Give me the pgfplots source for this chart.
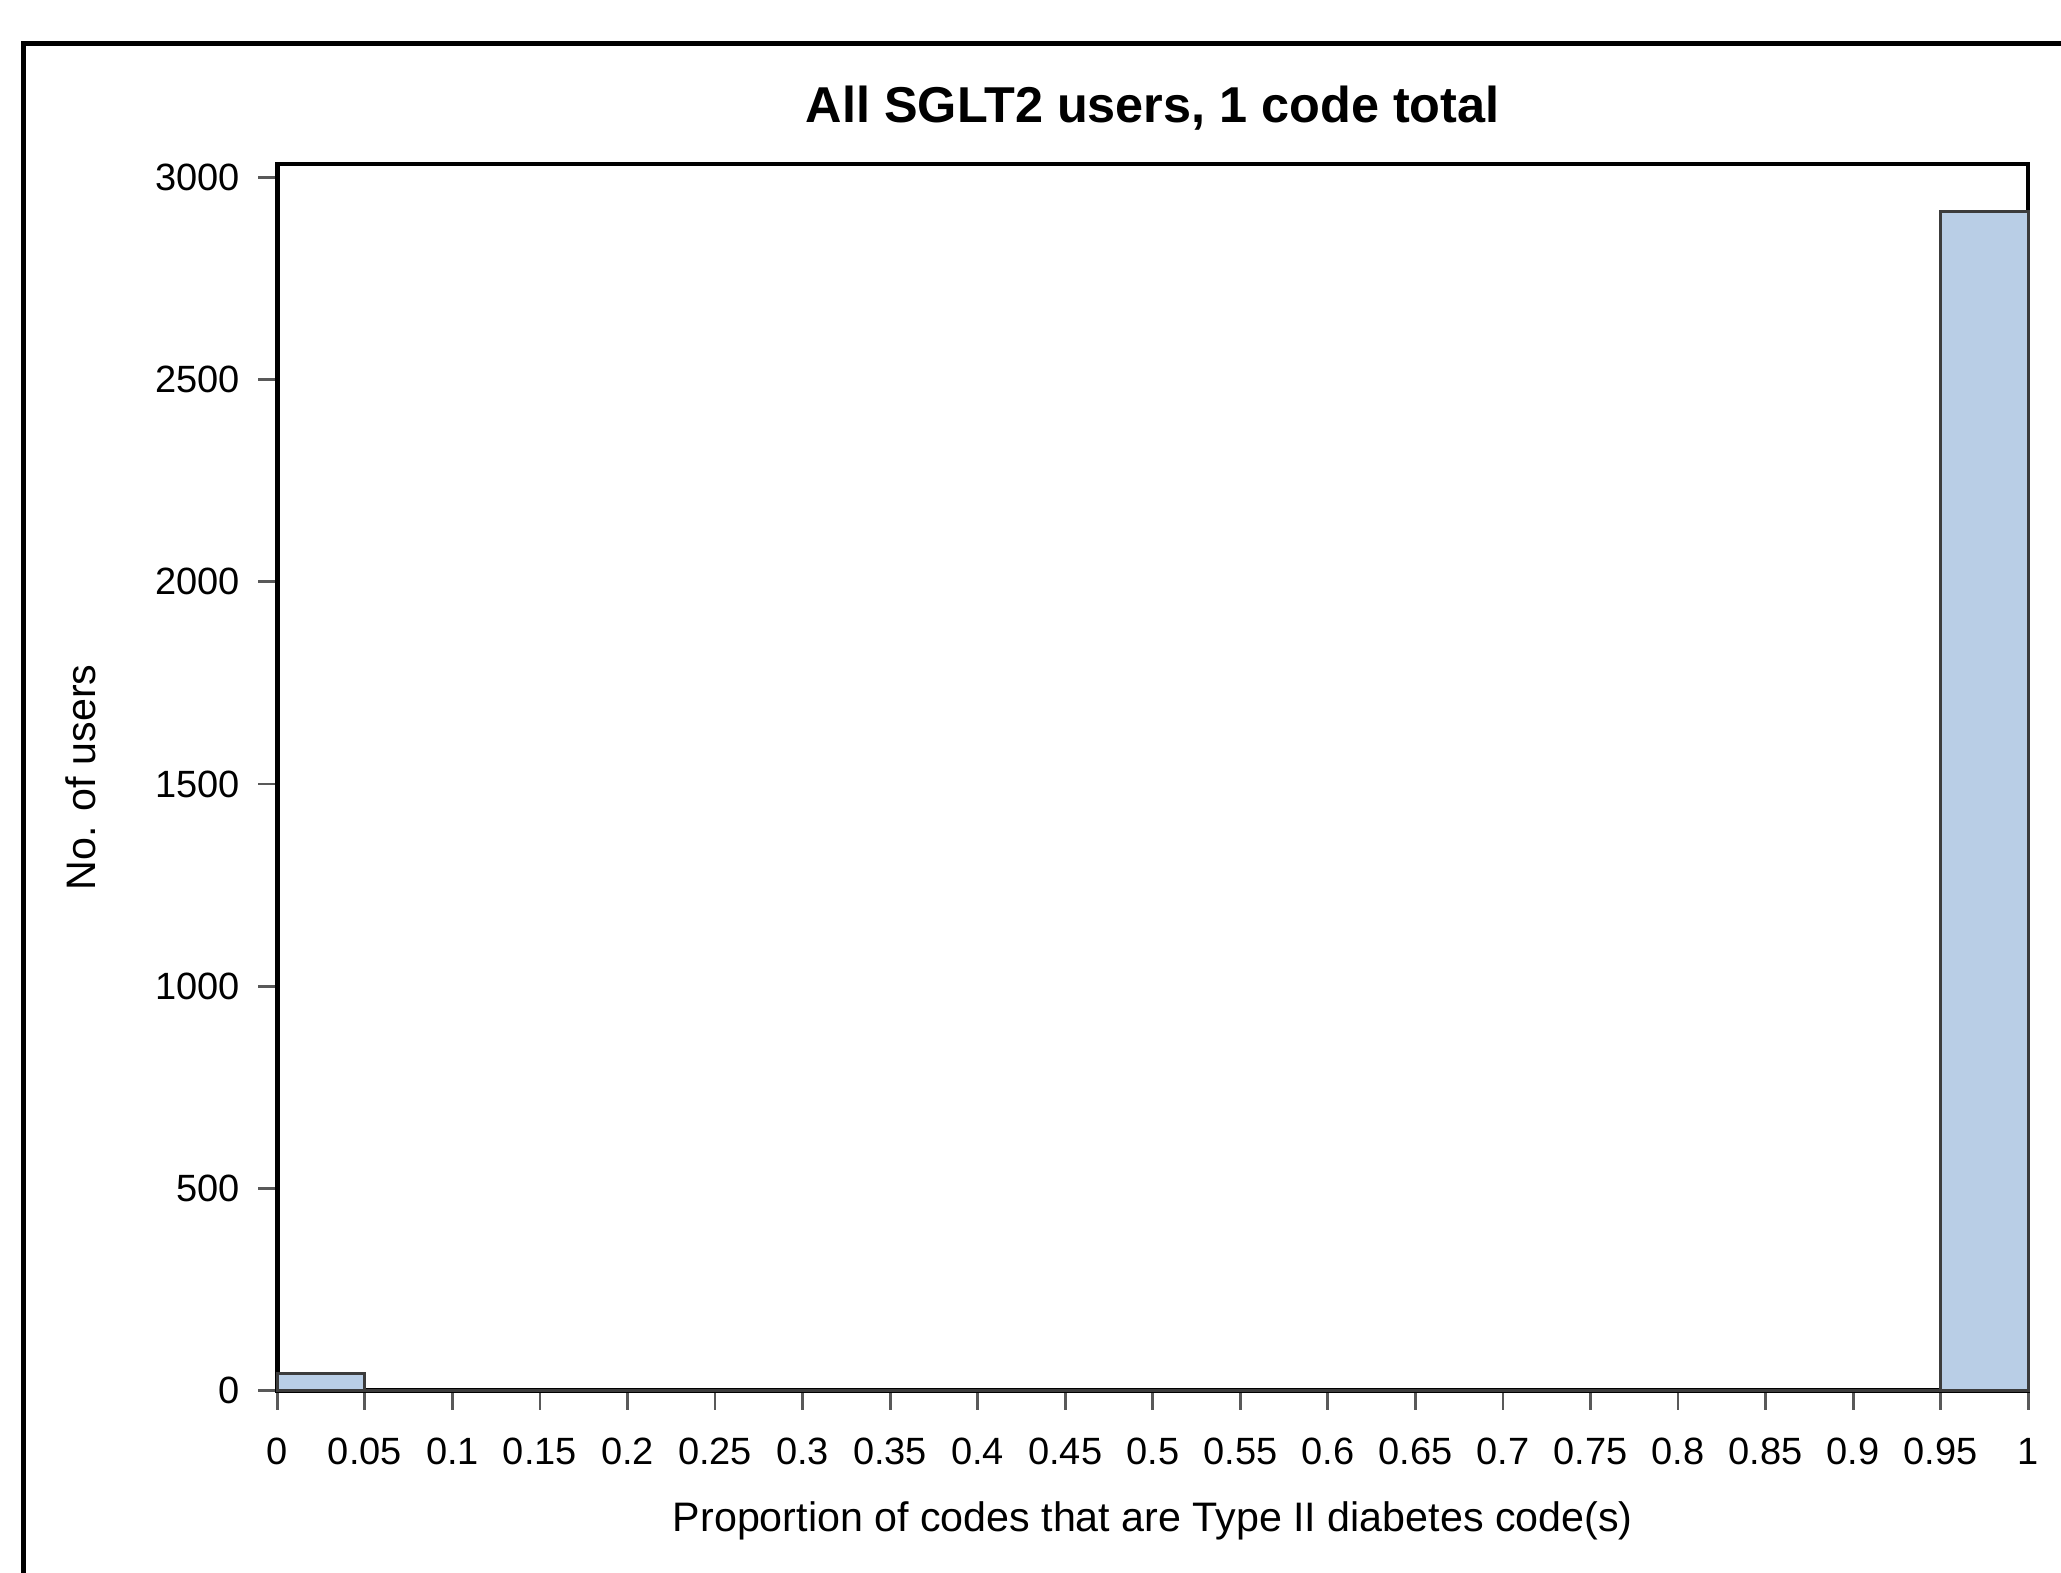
\documentclass[border=0pt]{standalone}
\usepackage{pgfplots}
\pgfplotsset{compat=1.18}
\usepackage{fontspec}
\setmainfont{Liberation Sans}
\definecolor{barfill}{RGB}{185,206,230}
\definecolor{baredge}{RGB}{60,60,60}
\begin{document}
\begin{tikzpicture}
\useasboundingbox (-69.33bp,-45.35bp) rectangle (445.9bp,347.66bp);
\fill[white] (-69.33bp,-45.35bp) rectangle (445.9bp,347.66bp);
\draw[line width=1.2bp] (-63.42bp,-60bp) -- (-63.42bp,336.8bp) -- (460bp,336.8bp);
\begin{axis}[
  scale only axis,
  width=437.7bp, height=306.6bp,
  at={(0,0)}, anchor=south west,
  xmin=0, xmax=1, ymin=0, ymax=3032,
  xtick={0,0.05,0.1,0.15,0.2,0.25,0.3,0.35,0.4,0.45,0.5,0.55,0.6,0.65,0.7,0.75,0.8,0.85,0.9,0.95,1},
  xticklabels={0,0.05,0.1,0.15,0.2,0.25,0.3,0.35,0.4,0.45,0.5,0.55,0.6,0.65,0.7,0.75,0.8,0.85,0.9,0.95,1},
  ytick={0,500,1000,1500,2000,2500,3000},
  yticklabels={0,500,1000,1500,2000,2500,3000},
  xtick pos=bottom, ytick pos=left,
  tick align=outside,
  major tick length=4.8bp,
  tick style={line width=0.7bp, black!65},
  axis line style={line width=1.1bp, black},
  ticklabel style={font=\fontsize{9.5bp}{11bp}\selectfont},
  xticklabel style={anchor=base, yshift=-13.6bp},
  yticklabel style={anchor=east, xshift=-1bp},
  title={\fontsize{12.6bp}{14bp}\selectfont\bfseries All SGLT2 users, 1 code total},
  every axis title/.style={at={(axis description cs:0.5,1.046)}, anchor=center},
  xlabel={Proportion of codes that are Type II diabetes code(s)},
  ylabel={No. of users},
  every axis x label/.style={at={(axis description cs:0.5,-0.106)}, anchor=center, font=\fontsize{10.3bp}{12bp}\selectfont},
  every axis y label/.style={at={(axis description cs:-0.112,0.5)}, rotate=90, anchor=center, font=\fontsize{10.3bp}{12bp}\selectfont},
  clip=false,
]
\addplot[ybar interval, fill=barfill, draw=baredge, line width=0.8bp] coordinates {
(0,42) (0.05,0) (0.1,0) (0.15,0) (0.2,0) (0.25,0) (0.3,0) (0.35,0) (0.4,0) (0.45,0)
(0.5,0) (0.55,0) (0.6,0) (0.65,0) (0.7,0) (0.75,0) (0.8,0) (0.85,0) (0.9,0) (0.95,2915) (1,2915)
};
\end{axis}
\end{tikzpicture}
\end{document}
